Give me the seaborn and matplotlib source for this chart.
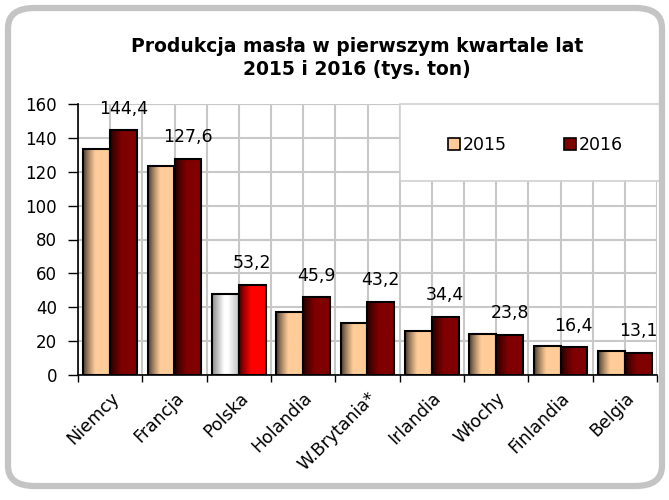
import numpy as np
import pandas as pd
import matplotlib
matplotlib.use("Agg")
import matplotlib.pyplot as plt
import seaborn as sns
from matplotlib.patches import FancyBboxPatch, Rectangle, Patch
import matplotlib.colors as mcolors

countries = ["Niemcy", "Francja", "Polska", "Holandia", "W.Brytania*",
             "Irlandia", "Włochy", "Finlandia", "Belgia"]
values_2015 = [133.2, 123.4, 47.6, 37.2, 30.5, 26.0, 24.0, 17.1, 14.3]
values_2016 = [144.4, 127.6, 53.2, 45.9, 43.2, 34.4, 23.8, 16.4, 13.1]
years = ["2015", "2016"]
title = "Produkcja masła w pierwszym kwartale lat\n2015 i 2016 (tys. ton)"

df = pd.DataFrame({
    "kraj": countries * 2,
    "rok": [years[0]] * len(countries) + [years[1]] * len(countries),
    "wartosc": values_2015 + values_2016,
})

sns.set_theme(style="white")
plt.rcParams["font.family"] = ["DejaVu Sans"]
plt.rcParams["text.color"] = "black"
plt.rcParams["xtick.color"] = "black"
plt.rcParams["ytick.color"] = "black"
plt.rcParams["axes.labelcolor"] = "black"

fig = plt.figure(figsize=(6.69, 5.0), dpi=100)
ax = fig.add_axes([78 / 669, 1 - 375 / 500, 579 / 669, 271 / 500])

base = {"2015": "#FFCC99", "2016": "#800000"}
sns.barplot(data=df, x="kraj", y="wartosc", hue="rok", palette=base,
            width=0.83, edgecolor="black", linewidth=1.5, ax=ax,
            legend=False, zorder=3)

ax.set_xlim(-0.5, len(countries) - 0.5)
ax.set_ylim(0, 160)


def grad(basecol, n=64, kind="normal"):
    c = np.array(mcolors.to_rgb(basecol))
    t = np.linspace(0, 1, n)
    if kind == "silver":
        f = 0.55 + 0.45 * np.clip(t / 0.45, 0, 1)
        f = np.where(t > 0.6, 1 - 0.25 * (t - 0.6) / 0.4, f)
        col = np.outer(f, c)
    else:
        f = 0.25 + 0.75 * np.clip(t / 0.45, 0, 1) ** 0.8
        col = np.outer(f, c)
    return np.clip(col, 0, 1)[None, :, :]


polska_idx = countries.index("Polska")
for ci, cont in enumerate(ax.containers):
    yr = years[ci]
    for bi, bar in enumerate(cont.patches):
        x, w, h = bar.get_x(), bar.get_width(), bar.get_height()
        if bi == polska_idx:
            img = grad("#FFFFFF", kind="silver") if yr == "2015" else grad("#FF0000")
        else:
            img = grad(base[yr])
        im = ax.imshow(img, extent=[x, x + w, 0, h], aspect="auto",
                       zorder=2.9, interpolation="bilinear")
        im.set_clip_path(bar)
        bar.set_facecolor("none")

ax.set_xlim(-0.5, len(countries) - 0.5)
ax.set_ylim(0, 160)
ax.set_aspect("auto")

# data labels for 2016
ax.bar_label(ax.containers[1],
             labels=[f"{v:.1f}".replace(".", ",") for v in values_2016],
             padding=9, fontsize=12.5, color="black", zorder=5)

# grid
ax.set_xticks(np.arange(len(countries)))
ax.set_xticks(np.arange(len(countries) + 1) - 0.5, minor=True)
ax.set_yticks(np.arange(0, 161, 20))
ax.grid(True, which="both", color="#c8c8c8", linewidth=1.5, zorder=0)
ax.set_axisbelow(True)
ax.tick_params(axis="x", which="major", length=0, pad=10)
ax.tick_params(axis="x", which="minor", length=5, width=1, color="black",
               direction="out", bottom=True)
ax.tick_params(axis="y", length=7, width=1, color="black", direction="out",
               left=True, labelsize=12, pad=8)
ax.set_xticklabels(countries, rotation=45, ha="right", rotation_mode="anchor",
                   fontsize=12.5)
ax.set_xlabel("")
ax.set_ylabel("")
for s in ["top", "right"]:
    ax.spines[s].set_visible(False)
for s in ["left", "bottom"]:
    ax.spines[s].set_color("black")
    ax.spines[s].set_linewidth(1.2)

# legend box
lx0, ly0 = (400 - 78) / 579, (375 - 181) / 271
ax.add_patch(Rectangle((lx0, ly0), 1.005 - lx0, 1.0 - ly0, transform=ax.transAxes,
                       facecolor="white", edgecolor="#d0d0d0", linewidth=1.2,
                       zorder=1.5, clip_on=False))
handles = [Patch(facecolor=base[y], edgecolor="black", linewidth=1.2) for y in years]
ax.legend(handles, years, loc="center", ncol=2, frameon=False,
          bbox_to_anchor=((535 - 78) / 579, (375 - 145) / 271),
          handlelength=0.7, handleheight=0.7, handletextpad=0.15,
          columnspacing=3.3, fontsize=12.5)

fig.text(357 / 669, 1 - 58 / 500, title, ha="center", va="center",
         fontsize=13.5, fontweight="bold", linespacing=1.25)

frame = FancyBboxPatch((8 / 669, 14 / 500), 654 / 669, 478 / 500,
                       boxstyle="round,pad=0,rounding_size=0.04",
                       transform=fig.transFigure, facecolor="none",
                       edgecolor="#c4c4c4", linewidth=4.5, zorder=0)
fig.patches.append(frame)

fig.savefig("out.png", dpi=100)
